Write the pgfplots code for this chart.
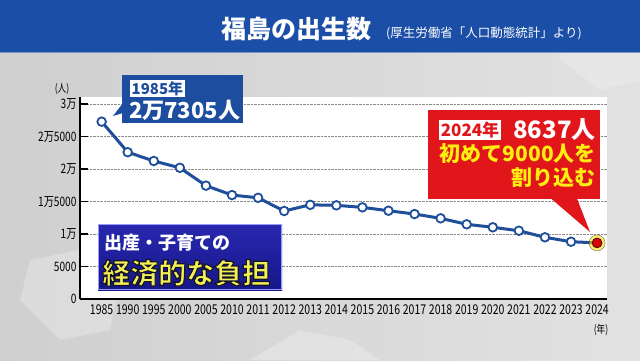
\documentclass[border=0pt]{standalone}
\usepackage{pgfplots}
\pgfplotsset{compat=1.18}
\usepackage{fontspec}
\setmainfont{Noto Sans CJK JP}
\newfontfamily\condfont{Noto Sans CJK JP}[FakeStretch=0.78]
\definecolor{banner}{HTML}{1B4EA6}
\definecolor{lineblue}{HTML}{1F4E9A}
\definecolor{boxblue}{HTML}{1C4D9E}
\definecolor{boxred}{HTML}{E0161B}
\definecolor{navy}{HTML}{16168A}
\definecolor{navytop}{HTML}{2828B0}
\definecolor{yel}{HTML}{FFEE10}
\definecolor{yel2}{HTML}{F2EE55}
\definecolor{bgl}{HTML}{CFCFCF}
\definecolor{bgr}{HTML}{E2E2E2}
\newcommand{\fs}[1]{\fontsize{#1}{#1}\selectfont}
\newcommand{\outlined}[1]{\special{pdf:literal direct 2 Tr 1.2 w 0.08 0.08 0.15 RG}#1\special{pdf:literal direct 0 Tr}}

\begin{document}
\begin{tikzpicture}
\begin{scope}[x=1pt,y=1pt]
\useasboundingbox (0,0) rectangle (640,360);
\shade[left color=bgl, right color=bgr] (0,0) rectangle (640,360);
\fill[white, opacity=0.25] (20,60) -- (60,20) -- (110,30) -- (120,80) -- (80,110) -- (30,100) -- cycle;
\fill[white, opacity=0.2] (560,300) -- (600,270) -- (640,280) -- (640,330) -- (600,345) -- (565,330) -- cycle;
\fill[white, opacity=0.25] (250,0) -- (300,30) -- (350,20) -- (380,0) -- cycle;
\fill[banner] (0,308) rectangle (640,360);
\fill[banner!60!white] (0,307) rectangle (640,308.5);
\node[white, font=\bfseries\fs{25}] at (296,331) {福島の出生数};
\node[white, anchor=west, font=\fs{12.5}, inner sep=0pt] at (386,327) {(厚生労働省「人口動態統計」より)};
\end{scope}

\begin{axis}[
  at={(80pt,61pt)}, anchor=south west, scale only axis,
  width=527pt, height=202pt,
  xmin=-0.83, xmax=19.38, ymin=0, ymax=31100,
  scaled y ticks=false,
  axis background/.style={fill=white},
  axis x line*=bottom, axis y line*=left,
  axis line style={line width=2.5pt, black},
  xtick={0,...,19},
  xticklabels={1985,1990,1995,2000,2005,2010,2011,2012,2013,2014,2015,2016,2017,2018,2019,2020,2021,2022,2023,2024},
  ytick={0,5000,10000,15000,20000,25000,30000},
  yticklabels={0,5000,1万,1万5000,2万,2万5000,3万},
  ymajorgrids,
  grid style={densely dotted, black!45, line width=0.9pt},
  tick align=inside, major tick length=8pt,
  ytick style={line width=1.3pt, black},
  xtick style={draw=none},
  xticklabel style={font=\condfont\fs{13.5}, yshift=-2pt},
  yticklabel style={font=\condfont\fs{13}},
  clip=false,
]
\addplot[lineblue, line width=3pt, mark=*, mark size=4.3pt,
  mark options={fill=white, draw=lineblue, line width=1.8pt}]
  coordinates {
  (0,27305) (1,22600) (2,21250) (3,20200) (4,17450) (5,16000)
  (6,15580) (7,13550) (8,14500) (9,14420) (10,14110) (11,13590)
  (12,13080) (13,12420) (14,11500) (15,11040) (16,10510) (17,9500)
  (18,8820) (19,8637)};
\addplot[only marks, mark=*, mark size=8pt,
  mark options={fill=yellow!80!orange, draw=none, opacity=0.55}]
  coordinates {(19,8637)};
\addplot[only marks, mark=*, mark size=5pt,
  mark options={fill=red!85!black, draw=none}]
  coordinates {(19,8637)};
\end{axis}

\begin{scope}[x=1pt,y=1pt]
\node[font=\condfont\fs{11}] at (62,271) {(人)};
\node[font=\condfont\fs{11}] at (601,30) {(年)};

% 1985 callout
\fill[boxblue] (122,237) rectangle (243,285);
\fill[boxblue] (123,257) -- (123,247) -- (113,244) -- cycle;
\node[fill=white, text=boxblue, font=\bfseries\fs{15}, inner sep=1.5pt, anchor=west] at (130,271.5) {1985年};
\node[white, font=\bfseries\fs{22}, anchor=west, inner sep=0pt] at (129,250) {2万7305人};

% 2024 callout
\fill[boxred] (428,161) rectangle (600,250);
\fill[boxred] (551,161.5) -- (577,161.5) -- (590,128) -- cycle;
\node[fill=white, text=boxred, font=\bfseries\fs{17}, inner sep=1.5pt] at (470,230) {2024年};
\node[white, font=\bfseries\fs{24}, anchor=east, inner sep=0pt] at (596,230) {8637人};
\node[yel, font=\bfseries\fs{21}, anchor=east, inner sep=0pt] at (596,206) {初めて9000人を};
\node[yel, font=\bfseries\fs{21}, anchor=east, inner sep=0pt] at (596,182) {割り込む};

% burden box
\shade[top color=navytop, bottom color=navy] (98,70) rectangle (282,136);
\draw[blue!40!white, line width=0.6pt] (98.5,70.5) rectangle (281.5,135.5);
\node[white, font=\bfseries\fs{18}, anchor=west, inner sep=0pt] at (104,117) {出産・子育ての};
\node[yel2, font=\bfseries\fs{28}, anchor=west, inner sep=0pt] at (102,87) {\outlined{経済的な負担}};
\end{scope}
\end{tikzpicture}
\end{document}
